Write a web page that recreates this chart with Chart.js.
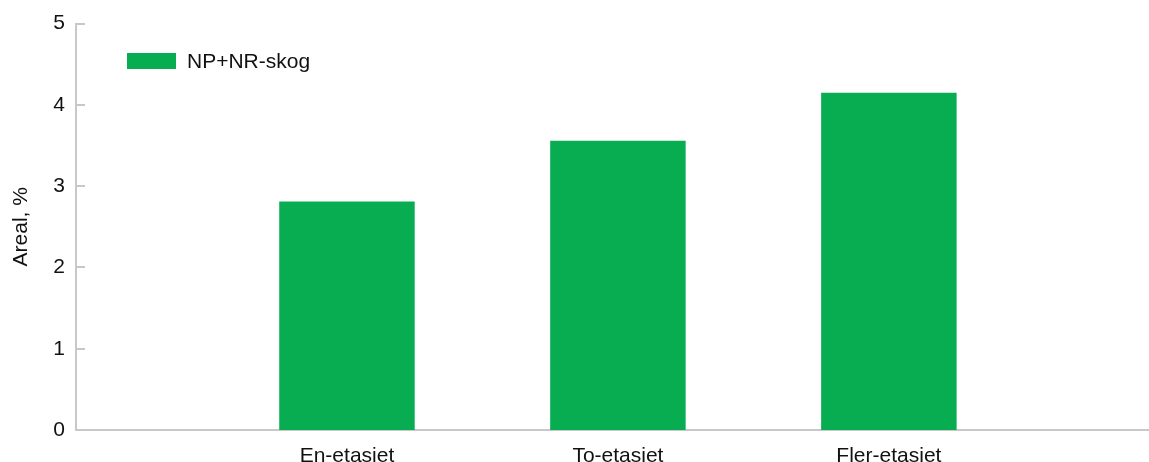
<!DOCTYPE html>
<html>
<head>
<meta charset="utf-8">
<script src="https://cdn.jsdelivr.net/npm/chart.js@4/dist/chart.umd.min.js"></script>
<style>
    html, body { margin: 0; padding: 0; background: #fff; overflow: hidden; }
    #wrap { position: relative; width: 1149px; height: 462px; }
    #legend {
        position: absolute; left: 127px; top: 49px;
        font-family: "Liberation Sans", Arial, sans-serif; font-size: 21px; color: #111;
        display: flex; align-items: center;
    }
    #legend .box { width: 49px; height: 16px; margin-right: 11px; }
</style>
</head>
<body>
<div id="wrap">
    <canvas id="chart" width="1149" height="462"></canvas>
    <div id="legend"></div>
</div>
<script>
const categories = ['En-etasjet', 'To-etasjet', 'Fler-etasjet'];
const seriesName = 'NP+NR-skog';
const seriesValues = [2.81, 3.56, 4.15];
const yTicks = [0, 1, 2, 3, 4, 5];

const barColor = '#08ad51';
const axisColor = '#c8c8c8';
const fontFamily = '"Liberation Sans", Arial, sans-serif';

document.getElementById('legend').innerHTML =
    `<span class="box" style="background:${barColor}"></span><span>${seriesName}</span>`;

// small tick marks pointing into the plot, like the original
const innerTicks = {
    id: 'innerTicks',
    afterDraw(chart) {
        const y = chart.scales.y;
        const ctx = chart.ctx;
        ctx.save();
        ctx.strokeStyle = axisColor;
        ctx.lineWidth = 2;
        y.ticks.forEach((t, i) => {
            const py = Math.round(y.getPixelForTick(i));
            ctx.beginPath();
            ctx.moveTo(y.right, py);
            ctx.lineTo(y.right + 9, py);
            ctx.stroke();
        });
        ctx.restore();
    }
};

// categories sit at 1, 2, 3 on a numeric axis; the original is cut off just before 4
const points = seriesValues.map((v, i) => ({ x: i + 1, y: v }));

new Chart(document.getElementById('chart'), {
    type: 'bar',
    data: {
        datasets: [{
            label: seriesName,
            data: points,
            backgroundColor: barColor,
            categoryPercentage: 0.5,
            barPercentage: 1.0
        }]
    },
    options: {
        responsive: false,
        animation: false,
        layout: { padding: { top: 23, right: 0, left: 0, bottom: 0 } },
        plugins: {
            legend: { display: false },
            tooltip: { enabled: false }
        },
        scales: {
            x: {
                type: 'linear',
                min: 0,
                max: 3.96,
                offset: false,
                afterBuildTicks: s => { s.ticks = categories.map((c, i) => ({ value: i + 1 })); },
                grid: { display: false, drawTicks: false },
                border: { color: axisColor, width: 2 },
                ticks: {
                    color: '#111',
                    font: { family: fontFamily, size: 21 },
                    padding: 14,
                    maxRotation: 0,
                    autoSkip: false,
                    callback: v => categories[v - 1]
                },
                afterFit: s => { s.height = 32; }
            },
            y: {
                min: 0,
                max: 5,
                afterBuildTicks: s => { s.ticks = yTicks.map(v => ({ value: v })); },
                grid: { display: false, drawTicks: false },
                border: { color: axisColor, width: 2 },
                ticks: {
                    color: '#111',
                    font: { family: fontFamily, size: 21 },
                    padding: 11
                },
                title: {
                    display: true,
                    text: 'Areal, %',
                    color: '#111',
                    font: { family: fontFamily, size: 21 },
                    padding: { top: 9, bottom: 0 }
                },
                afterFit: s => { s.width = 76; }
            }
        }
    },
    plugins: [innerTicks]
});
</script>
</body>
</html>
